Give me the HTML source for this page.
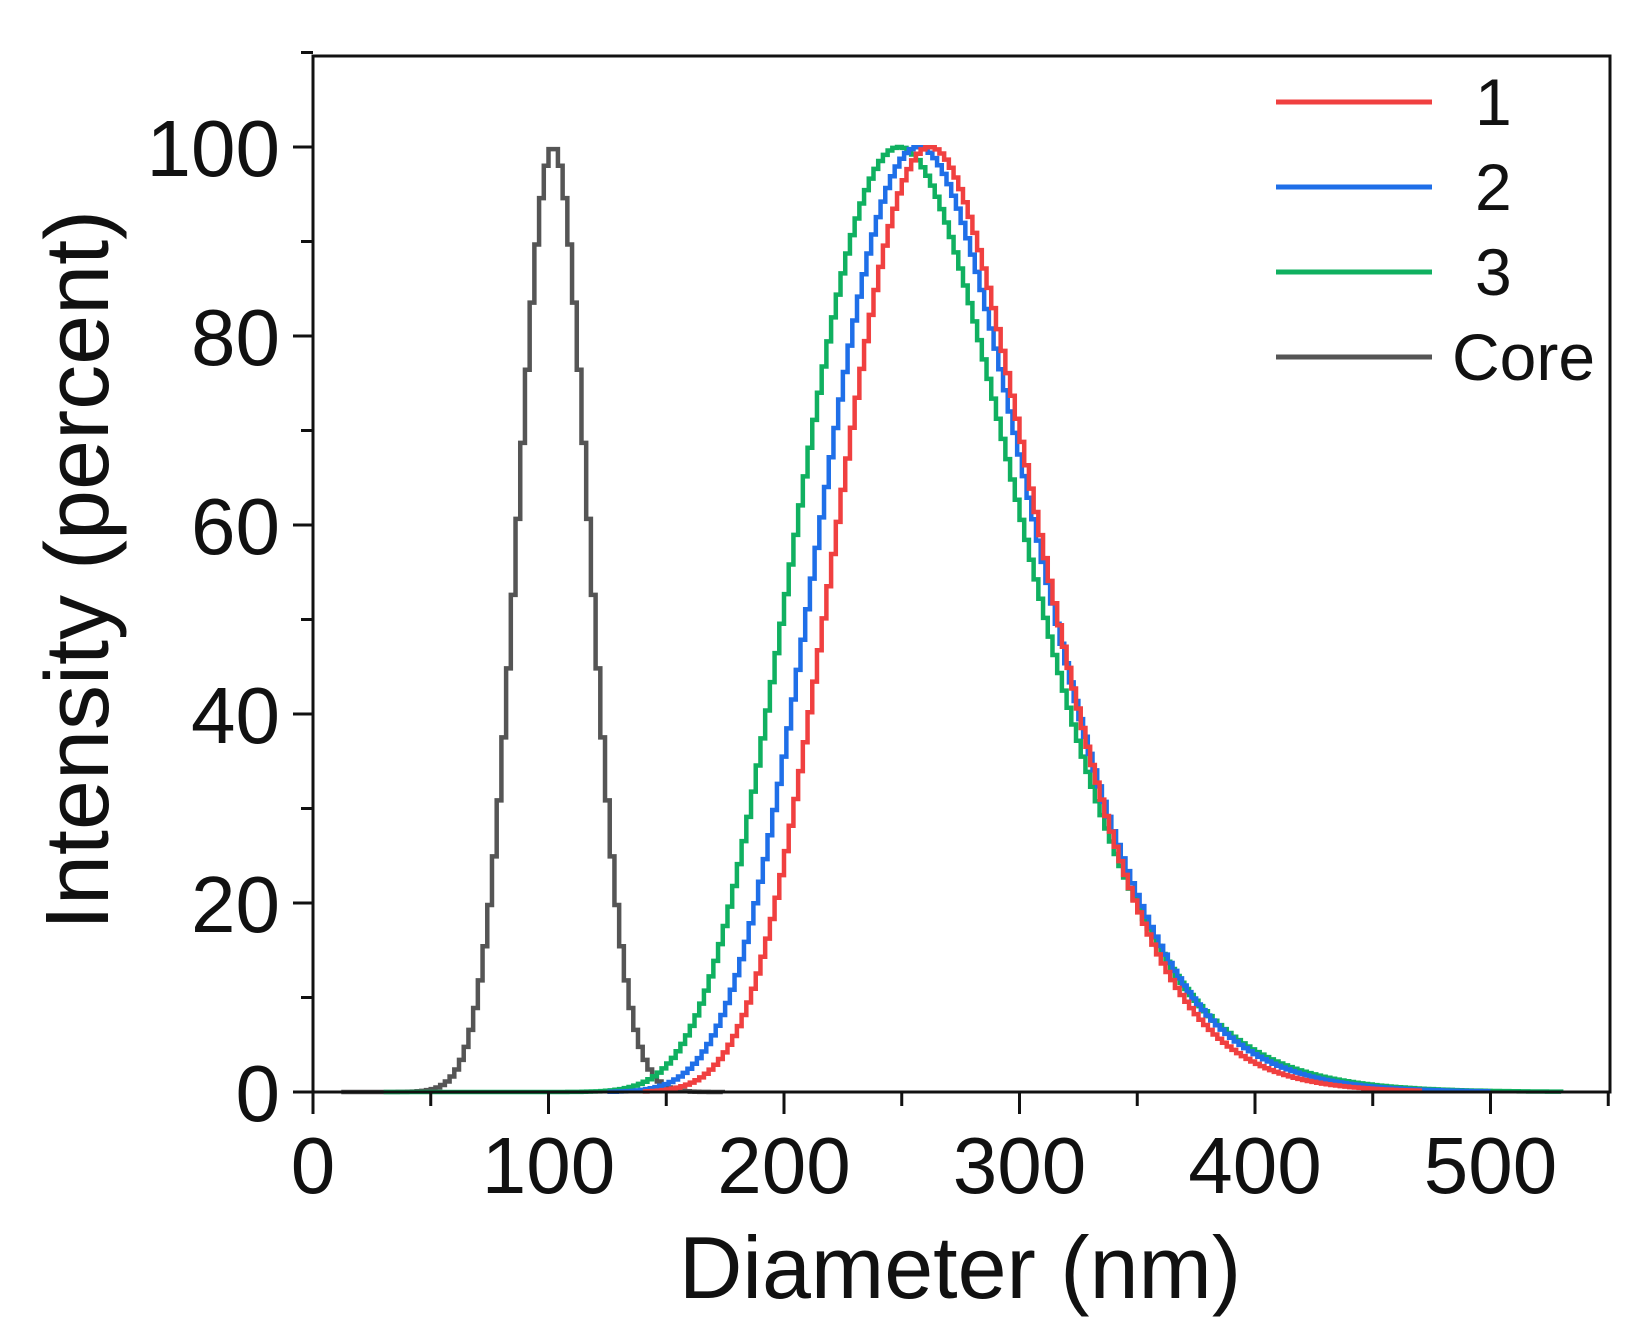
<!DOCTYPE html>
<html><head><meta charset="utf-8"><style>html,body{margin:0;padding:0;background:#fff}svg{display:block}</style></head>
<body>
<svg id="s" width="1633" height="1342" xmlns="http://www.w3.org/2000/svg" font-family="Liberation Sans, sans-serif">
<rect width="1633" height="1342" fill="#fff"/>
<g id="curves" fill="none" stroke-width="4.5" stroke-linejoin="miter"></g>
<rect x="313" y="56" width="1297" height="1036" fill="none" stroke="#111" stroke-width="3"/>
<g id="ticks" stroke="#111" stroke-width="3"></g>
<g id="lab" font-size="80" fill="#111"></g>
<text x="960" y="1298" font-size="88" text-anchor="middle" fill="#111">Diameter (nm)</text>
<text transform="translate(108,570) rotate(-90)" font-size="90" text-anchor="middle" fill="#111">Intensity (percent)</text>
<g stroke-width="5">
<line x1="1276" y1="102" x2="1432" y2="102" stroke="#f04040"/>
<line x1="1276" y1="187" x2="1432" y2="187" stroke="#1f6fe8"/>
<line x1="1276" y1="272" x2="1432" y2="272" stroke="#10b060"/>
<line x1="1276" y1="357" x2="1432" y2="357" stroke="#555"/>
</g>
<g font-size="66" fill="#111">
<text x="1475" y="125">1</text>
<text x="1475" y="210">2</text>
<text x="1475" y="295">3</text>
<text x="1452" y="380">Core</text>
</g>
</svg>
<script>
const X=d=>313+d*2.355, Y=v=>1092-v*9.45;
const ns="http://www.w3.org/2000/svg";
function el(p,t,a,txt){const e=document.createElementNS(ns,t);for(const k in a)e.setAttribute(k,a[k]);if(txt!=null)e.textContent=txt;document.getElementById(p).appendChild(e);}
for(let d=0;d<=550;d+=50){const maj=d%100==0;el("ticks","line",{x1:X(d),y1:1092,x2:X(d),y2:1092+(maj?22:14)});if(maj)el("lab","text",{x:X(d),y:1193,"text-anchor":"middle"},d);}
for(let v=0;v<=110;v+=10){const maj=v%20==0;el("ticks","line",{x1:313,y1:Y(v),x2:313-(maj?20:12),y2:Y(v)});if(maj)el("lab","text",{x:280,y:Y(v)+29,"text-anchor":"end"},v);}
function path(f,a,b,step,col){let s="",prev=null;for(let d=a;d<=b;d+=step){const v=f(d);const x=X(d),y=Y(v);if(prev==null)s+="M"+x+" "+y;else s+="H"+x+"V"+y;prev=y;}el("curves","path",{d:s,stroke:col});}
const ln=(m,sg)=>d=>100*Math.exp(-Math.pow(Math.log(d/m),2)/(2*sg*sg));
const ga=(m,sg)=>d=>100*Math.exp(-Math.pow(d-m,2)/(2*sg*sg));
path(ga(101,15),12,175,2,"#555");
path(ln(248,0.19),30,530,2,"#10b060");
path(ln(256,0.175),125,500,2,"#1f6fe8");
path(ln(261,0.161),140,470,2,"#f04040");
</script>
</body></html>
